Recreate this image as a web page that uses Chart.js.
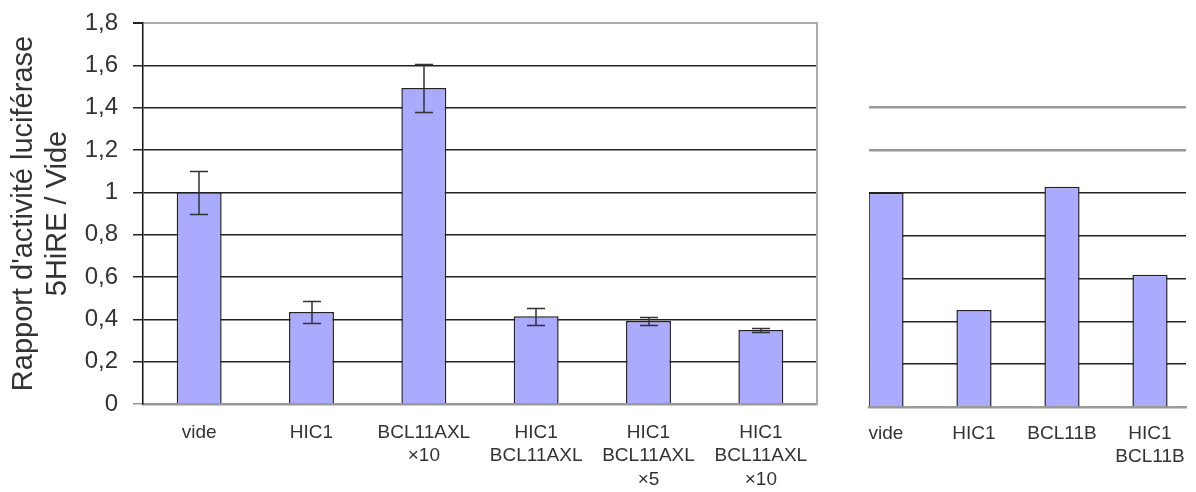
<!DOCTYPE html>
<html>
<head>
<meta charset="utf-8">
<script src="https://cdn.jsdelivr.net/npm/chart.js@4.4.1/dist/chart.umd.min.js"></script>
<style>
  html, body { margin: 0; padding: 0; background: #fff; }
  #wrap { position: relative; width: 1196px; height: 492px; }
  #left { position: absolute; left: 0; top: 0; }
  #right { position: absolute; left: 846px; top: 0; }
</style>
</head>
<body>
<div id="wrap">
  <canvas id="left" width="840" height="492"></canvas>
  <canvas id="right" width="350" height="492"></canvas>
</div>
<script>
// Left panel data
const leftLabels = [
  ['vide'],
  ['HIC1'],
  ['BCL11AXL', '×10'],
  ['HIC1', 'BCL11AXL'],
  ['HIC1', 'BCL11AXL', '×5'],
  ['HIC1', 'BCL11AXL', '×10'],
];
const leftValues = [1.0, 0.435, 1.493, 0.415, 0.392, 0.35];
const leftErrors = [0.1, 0.05, 0.115, 0.04, 0.02, 0.008];
const yTickLabels = ['0', '0,2', '0,4', '0,6', '0,8', '1', '1,2', '1,4', '1,6', '1,8'];

// Right panel data
const rightLabels = [['vide'], ['HIC1'], ['BCL11B'], ['HIC1', 'BCL11B']];
const rightPositions = [0, 1, 2, 3];
const rightValues = [1.0, 0.453, 1.028, 0.617];

Chart.defaults.font.family = "'Liberation Sans', Arial, sans-serif";
Chart.defaults.color = '#333';

const BAR_FILL = '#aaaaff';
const BAR_LINE = '#222';

// Draws symmetric error bars on top of dataset 0
const errorBars = {
  id: 'errorBars',
  afterDatasetsDraw(chart, args, opts) {
    const errs = opts.errors;
    if (!errs) return;
    const meta = chart.getDatasetMeta(0);
    const yScale = chart.scales.y;
    const values = chart.data.datasets[0].data;
    const ctx = chart.ctx;
    ctx.save();
    ctx.strokeStyle = opts.color;
    ctx.lineWidth = opts.width;
    meta.data.forEach((bar, i) => {
      const v = values[i];
      const top = Math.round(yScale.getPixelForValue(v + errs[i])) + 0.5;
      const bot = Math.round(yScale.getPixelForValue(v - errs[i])) + 0.5;
      const x = Math.round(bar.x);
      const half = opts.cap / 2;
      ctx.beginPath();
      ctx.moveTo(x, top); ctx.lineTo(x, bot);
      ctx.moveTo(x - half, top); ctx.lineTo(x + half, top);
      ctx.moveTo(x - half, bot); ctx.lineTo(x + half, bot);
      ctx.stroke();
    });
    ctx.restore();
  }
};

// Left chart
new Chart(document.getElementById('left'), {
  type: 'bar',
  data: {
    labels: leftLabels,
    datasets: [{
      data: leftValues,
      backgroundColor: BAR_FILL,
      borderColor: BAR_LINE,
      borderWidth: 1.5,
      categoryPercentage: 0.8,
      barPercentage: 0.5,
    }],
  },
  options: {
    responsive: false,
    animation: false,
    layout: { padding: { top: 23, right: 23, bottom: 0, left: 0 } },
    plugins: {
      legend: { display: false },
      tooltip: { enabled: false },
      errorBars: { errors: leftErrors, color: '#333', width: 1.5, cap: 18 },
    },
    scales: {
      x: {
        grid: { display: false, drawTicks: false },
        border: { display: true, color: '#999', width: 2.5 },
        ticks: {
          font: { size: 19, lineHeight: 1.23 },
          color: '#333',
          padding: 17,
          maxRotation: 0,
          autoSkip: false,
        },
        afterFit: (s) => {
          s.height = 88;
          s.paddingLeft = 0;
          s.paddingRight = 0;
        },
      },
      y: {
        min: 0,
        max: 1.8,
        ticks: {
          stepSize: 0.2,
          font: { size: 24 },
          color: '#333',
          padding: 15,
          callback: (v, i) => yTickLabels[i],
        },
        grid: {
          color: (c) => (c.tick.value >= 1.79 ? '#aaa' : c.tick.value === 0 ? '#999' : '#222'),
          lineWidth: (c) => (c.tick.value >= 1.79 ? 2 : 1.5),
          tickColor: (c) => (c.tick.value === 0 ? '#999' : '#222'),
          tickLength: 10,
        },
        border: { display: true, color: '#111', width: 1.5 },
        title: {
          display: true,
          text: ["Rapport d'activité luciférase", '5HiRE / Vide'],
          font: { size: 29, lineHeight: 1.18 },
          color: '#333',
          padding: { top: 7, bottom: 0 },
        },
        afterFit: (s) => {
          s.width = 143;
          s.paddingTop = 0;
          s.paddingBottom = 0;
        },
      },
      yFrame: {
        position: 'right',
        min: 0,
        max: 1.8,
        ticks: { display: false },
        grid: { display: false, drawTicks: false },
        border: { display: true, color: '#aaa', width: 2 },
        afterFit: (s) => {
          s.width = 0;
          s.paddingTop = 0;
          s.paddingBottom = 0;
        },
      },
    },
  },
  plugins: [errorBars],
});

// Right chart (cropped panel, linear x so gridlines start at the first bar)
new Chart(document.getElementById('right'), {
  type: 'bar',
  data: {
    datasets: [{
      data: rightPositions.map((p, i) => ({ x: p, y: rightValues[i] })),
      backgroundColor: BAR_FILL,
      borderColor: BAR_LINE,
      borderWidth: 1.5,
      categoryPercentage: 0.8,
      barPercentage: 0.5,
    }],
  },
  options: {
    responsive: false,
    animation: false,
    layout: { padding: { top: 107, right: 10, bottom: 0, left: 23 } },
    plugins: {
      legend: { display: false },
      tooltip: { enabled: false },
    },
    scales: {
      x: {
        type: 'linear',
        offset: false,
        min: -0.193,
        max: 3.409,
        grid: { display: false, drawTicks: false, offset: false },
        border: { display: true, color: '#999', width: 2.5 },
        ticks: {
          stepSize: 1,
          includeBounds: false,
          font: { size: 19, lineHeight: 1.23 },
          color: '#333',
          padding: 15,
          maxRotation: 0,
          autoSkip: false,
          callback: (v) => (Number.isInteger(v) && rightLabels[v] ? rightLabels[v] : ''),
        },
        afterFit: (s) => {
          s.height = 85;
          s.paddingLeft = 0;
          s.paddingRight = 0;
        },
      },
      y: {
        min: 0,
        max: 1.4,
        ticks: { display: false, stepSize: 0.2 },
        grid: {
          drawTicks: false,
          color: (c) => (c.tick.value >= 1.19 ? '#999' : c.tick.value === 0 ? '#999' : '#222'),
          lineWidth: (c) => (c.tick.value >= 1.19 ? 2.5 : 1.5),
        },
        border: { display: false },
        afterFit: (s) => { s.width = 0; },
      },
    },
  },
});
</script>
</body>
</html>
